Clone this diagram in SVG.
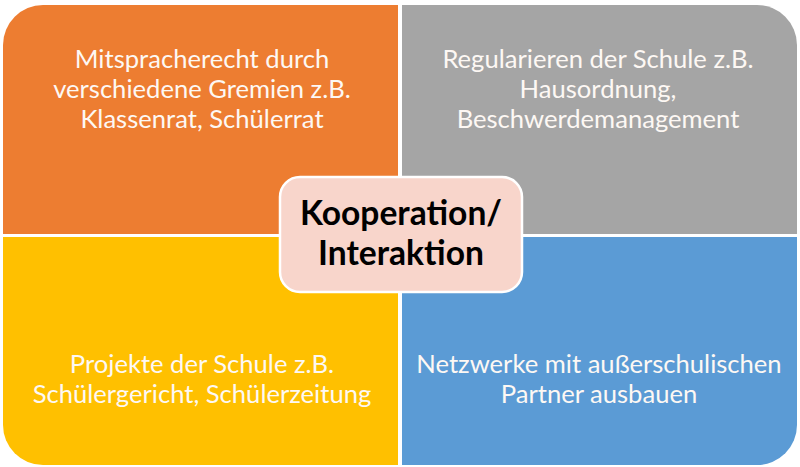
<svg xmlns="http://www.w3.org/2000/svg" width="800" height="467" viewBox="0 0 800 467">
<style>
.q{font-family:Lato,"Open Sans","Liberation Sans",sans-serif;font-size:25.6px;fill:#fdf8f4;text-anchor:middle}
.c{font-family:Lato,"Open Sans","Liberation Sans",sans-serif;font-size:33.6px;font-weight:bold;fill:#000000;text-anchor:middle}
</style>
<rect width="800" height="467" fill="#ffffff"/>
<g id="q-tl">
<path d="M3,45 A40,40 0 0 1 43,5 L398,5 L398,234 L3,234 Z" fill="#ED7D31"/>
<text class="q" x="202" y="68">Mitspracherecht durch</text>
<text class="q" x="202" y="98">verschiedene Gremien z.B.</text>
<text class="q" x="202" y="128">Klassenrat, Schülerrat</text>
</g>
<g id="q-tr">
<path d="M402,5 L757,5 A40,40 0 0 1 797,45 L797,234 L402,234 Z" fill="#A5A5A5"/>
<text class="q" x="598" y="68">Regularieren der Schule z.B.</text>
<text class="q" x="598" y="98">Hausordnung,</text>
<text class="q" x="598" y="128">Beschwerdemanagement</text>
</g>
<g id="q-bl">
<path d="M3,237 L398,237 L398,465 L43,465 A40,40 0 0 1 3,425 Z" fill="#FFC000"/>
<text class="q" x="202" y="373">Projekte der Schule z.B.</text>
<text class="q" x="202" y="403">Schülergericht, Schülerzeitung</text>
</g>
<g id="q-br">
<path d="M402,237 L797,237 L797,425 A40,40 0 0 1 757,465 L402,465 Z" fill="#5B9BD5"/>
<text class="q" x="599" y="373">Netzwerke mit außerschulischen</text>
<text class="q" x="599" y="403">Partner ausbauen</text>
</g>
<g id="connectors"></g>
<g id="center">
<rect x="280" y="177" width="242" height="115" rx="20" ry="20" fill="#F8D5CB" stroke="#ffffff" stroke-width="2.5"/>
<text class="c" x="401" y="225">Kooperation/</text>
<text class="c" x="401" y="265">Interaktion</text>
</g>
</svg>
